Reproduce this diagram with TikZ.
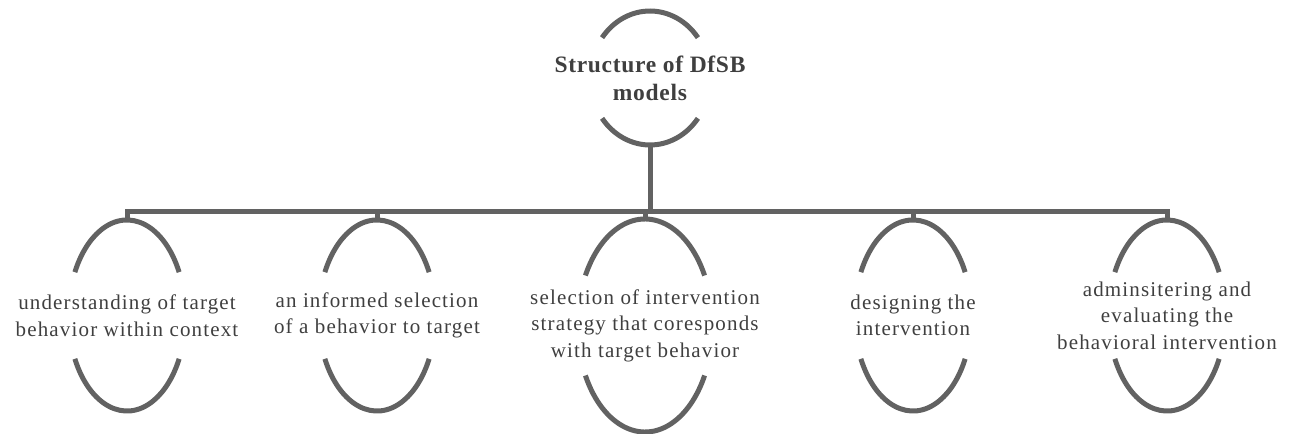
\documentclass[tikz,border=0pt]{standalone}
\usepackage{fontspec}
\setmainfont{Liberation Serif}
\newfontfamily\spacedserif[LetterSpace=5.5]{Liberation Serif}
\newfontfamily\titleserif[LetterSpace=3]{Liberation Serif}
\definecolor{linec}{HTML}{626262}
\definecolor{textc}{HTML}{3F3F3F}
\begin{document}
\begin{tikzpicture}[x=1pt,y=1pt,
  arcline/.style={draw=linec, line width=5pt},
  lbl/.style={text=textc, font=\spacedserif\fontsize{21}{26.5}\selectfont, align=center, inner sep=0pt},
  ttl/.style={text=textc, font=\titleserif\bfseries\fontsize{23.5}{28}\selectfont, align=center, inner sep=0pt}]
\useasboundingbox (0,0) rectangle (1294,434);
% title
\node[ttl] (top) at (650,356) {Structure of DfSB\\models};
\draw[arcline] ([shift={(37:60 and 67)}]top.center) arc[start angle=37, end angle=143, x radius=60, y radius=67];
\draw[arcline] ([shift={(217:60 and 67)}]top.center) arc[start angle=217, end angle=323, x radius=60, y radius=67];
% children
\node[lbl] (c1) at (127,118.5) {understanding of target\\behavior within context};
\node[lbl] (c2) at (377,118.5) {an informed selection\\of a behavior to target};
\node[lbl] (c3) at (645,108.5) {selection of intervention\\strategy that coresponds\\with target behavior};
\node[lbl] (c4) at (913,118.5) {designing the\\intervention};
\node[lbl] (c5) at (1167,118.5) {adminsitering and\\evaluating the\\behavioral intervention};
\foreach \n in {c1,c2,c4,c5}{
  \draw[arcline] ([shift={(27:58.5 and 95.5)}]\n.center) arc[start angle=27, end angle=153, x radius=58.5, y radius=95.5];
  \draw[arcline] ([shift={(207:58.5 and 95.5)}]\n.center) arc[start angle=207, end angle=333, x radius=58.5, y radius=95.5];
}
\draw[arcline] ([shift={(28:67.5 and 106.5)}]c3.center) arc[start angle=28, end angle=152, x radius=67.5, y radius=106.5];
\draw[arcline] ([shift={(208:67.5 and 106.5)}]c3.center) arc[start angle=208, end angle=332, x radius=67.5, y radius=106.5];
% connector coordinates
\coordinate (topb) at ([yshift=-67pt]top.center);
\coordinate (bar) at (650,222);
\coordinate (t1) at ([yshift=95.5pt]c1.center);
\coordinate (t2) at ([yshift=95.5pt]c2.center);
\coordinate (t3) at ([yshift=106.5pt]c3.center);
\coordinate (t4) at ([yshift=95.5pt]c4.center);
\coordinate (t5) at ([yshift=95.5pt]c5.center);
\draw[arcline] (topb) -- (topb |- bar);
\draw[arcline] (t1) -- (t1 |- bar) -- (t5 |- bar) -- (t5);
\foreach \t in {t2,t3,t4}{\draw[arcline] (\t) -- (\t |- bar);}
\end{tikzpicture}
\end{document}
